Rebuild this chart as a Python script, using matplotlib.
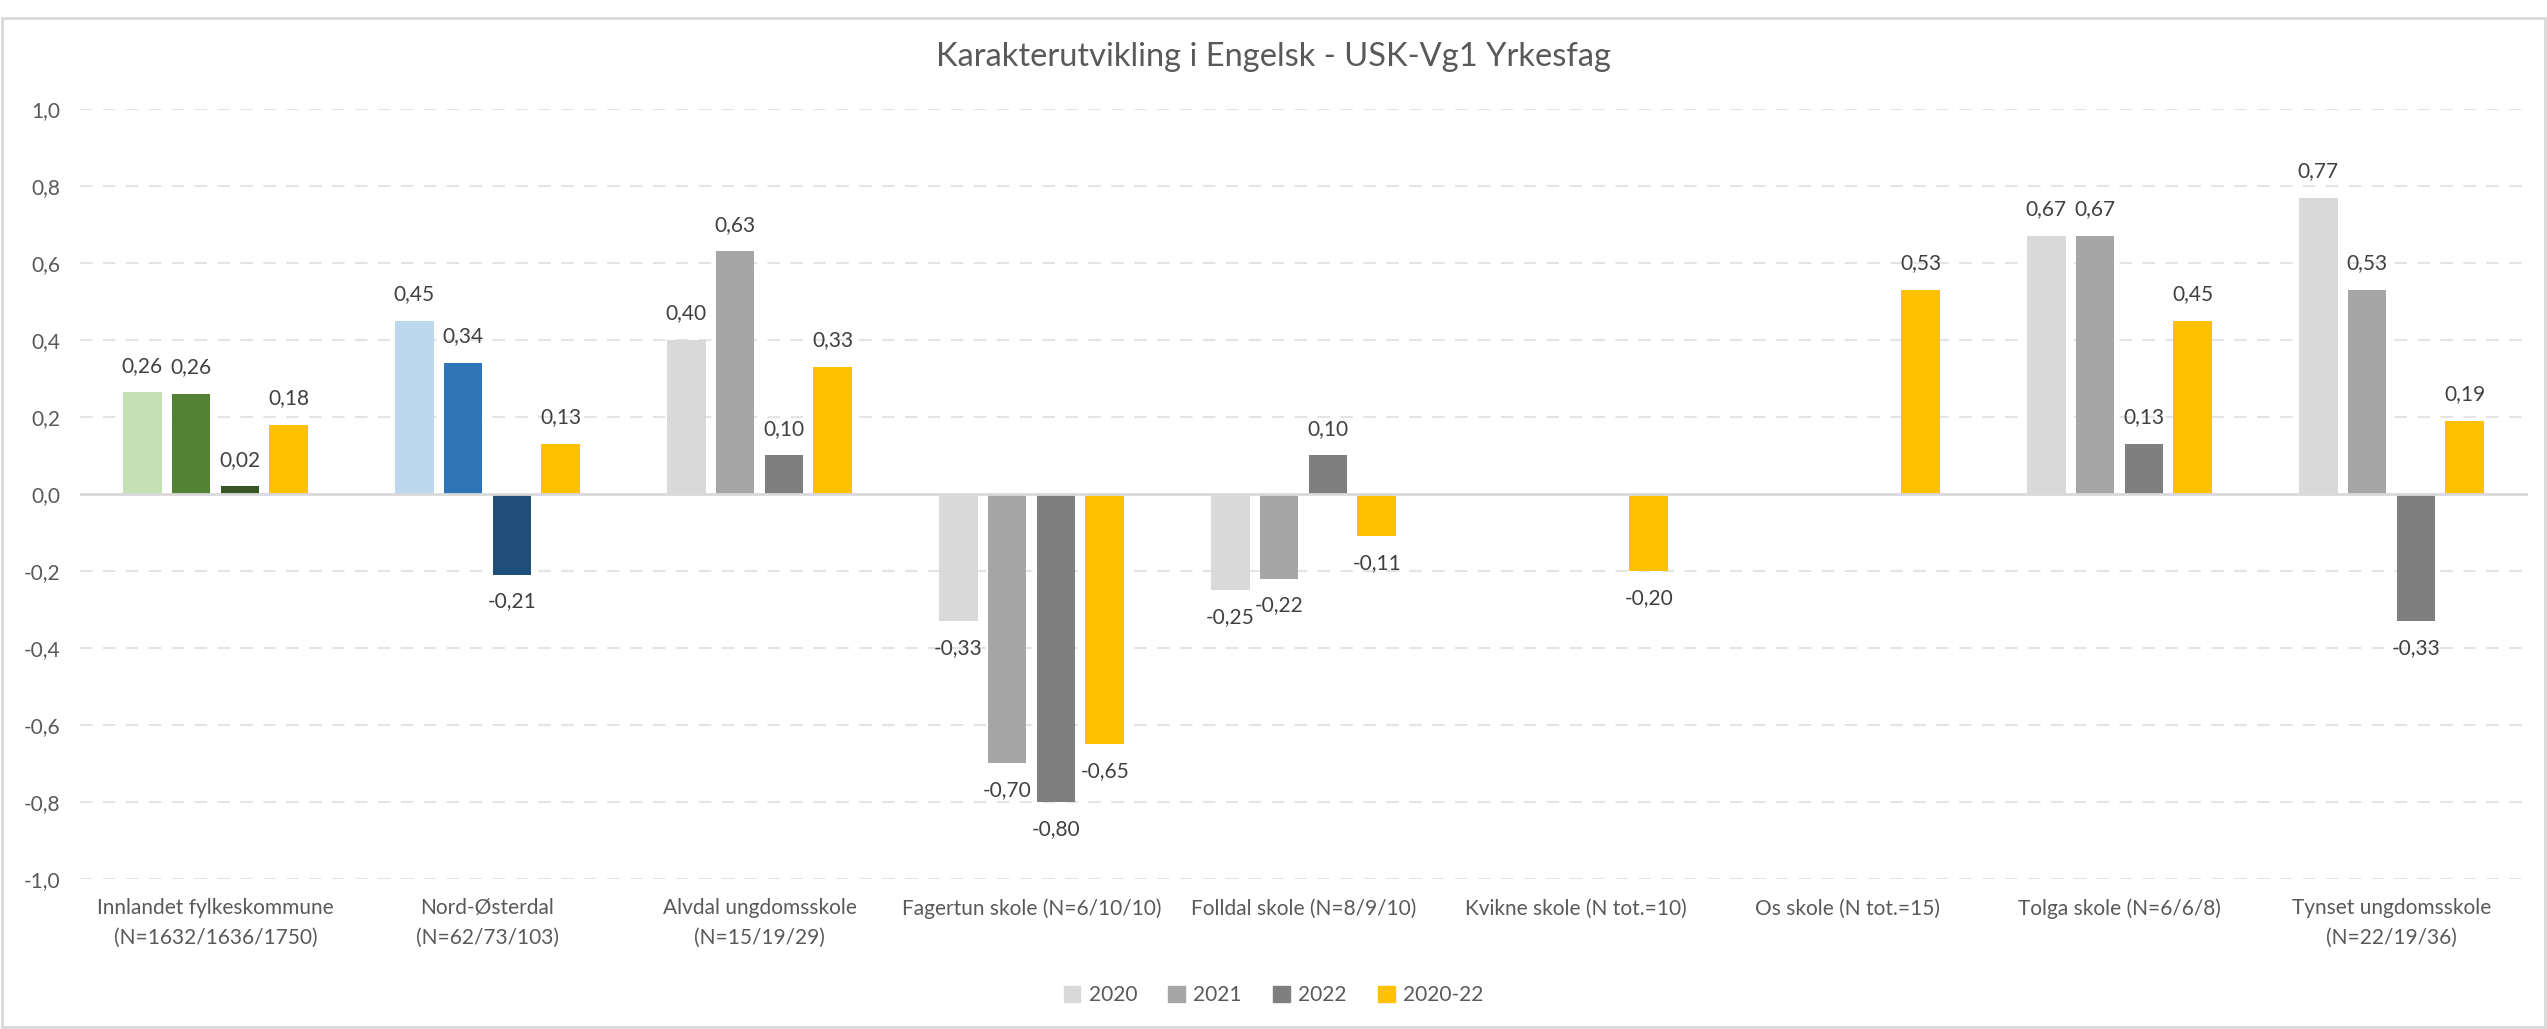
import numpy as np
import matplotlib.pyplot as plt
from matplotlib.patches import Patch, Rectangle
from matplotlib import font_manager

# Calibri-lookalike if available
names = {f.name for f in font_manager.fontManager.ttflist}
fam = 'Liberation Sans Narrow' if 'Liberation Sans Narrow' in names else 'Lato'
plt.rcParams['font.family'] = [fam, 'DejaVu Sans']

title = 'Karakterutvikling i Engelsk - USK-Vg1 Yrkesfag'
categories = [
    'Innlandet fylkeskommune\n(N=1632/1636/1750)',
    'Nord-Østerdal\n(N=62/73/103)',
    'Alvdal ungdomsskole\n(N=15/19/29)',
    'Fagertun skole (N=6/10/10)',
    'Folldal skole (N=8/9/10)',
    'Kvikne skole (N tot.=10)',
    'Os skole (N tot.=15)',
    'Tolga skole (N=6/6/8)',
    'Tynset ungdomsskole\n(N=22/19/36)',
]
series = ['2020', '2021', '2022', '2020-22']
nan = np.nan
v2020 = [0.264, 0.45, 0.40, -0.33, -0.25, nan, nan, 0.67, 0.77]
v2021 = [0.26, 0.34, 0.63, -0.70, -0.22, nan, nan, 0.67, 0.53]
v2022 = [0.02, -0.21, 0.10, -0.80, 0.10, nan, nan, 0.13, -0.33]
v2020_22 = [0.18, 0.13, 0.33, -0.65, -0.11, -0.20, 0.53, 0.45, 0.19]
values = [v2020, v2021, v2022, v2020_22]

# colour per series; first two groups use own palettes
grey = ['#D9D9D9', '#A6A6A6', '#7F7F7F', '#FFC000']
green = ['#C5E0B4', '#548235', '#375623', '#FFC000']
blue = ['#BDD7EE', '#2E75B6', '#1F4E79', '#FFC000']
group_colors = [green, blue] + [grey] * 7

fig = plt.figure(figsize=(25.47, 10.29), dpi=100)
ax = fig.add_axes([79.5 / 2547, 1 - 879 / 1029, (2527.5 - 79.5) / 2547, (879 - 109) / 1029])

x = np.arange(len(categories))
width = 0.143
step = 0.180
text_c = '#404040'
for i, vals in enumerate(values):
    cols = [gc[i] for gc in group_colors]
    pos = x + (i - 1.5) * step
    ax.bar(pos, vals, width, color=cols, zorder=3)
    for p, v in zip(pos, vals):
        if np.isnan(v):
            continue
        lab = f'{v:.2f}'.replace('.', ',')
        if v >= 0:
            ax.annotate(lab, (p, v), xytext=(0, 12), textcoords='offset points',
                        ha='center', va='bottom', fontsize=15, color=text_c)
        else:
            ax.annotate(lab, (p, v), xytext=(0, -12), textcoords='offset points',
                        ha='center', va='top', fontsize=15, color=text_c)

ax.set_xlim(-0.5, len(categories) - 0.5)
ax.set_ylim(-1.0, 1.0)
ticks = np.round(np.arange(-1.0, 1.01, 0.2), 1)
ax.set_yticks(ticks)
ax.set_yticklabels([f'{abs(t) if abs(t) < 1e-9 else t:.1f}'.replace('.', ',') for t in ticks],
                   fontsize=15, color='#595959')
for t in ticks:
    if abs(t) < 1e-9:
        ax.axhline(0, color='#D9D9D9', lw=2, zorder=4)
    else:
        ax.axhline(t, color='#E4E4E4', lw=1.5, ls=(0, (6, 5)), zorder=1)

ax.set_xticks(x)
ax.set_xticklabels(categories, fontsize=15, color='#595959', linespacing=1.6)
ax.tick_params(axis='both', length=0)
ax.tick_params(axis='x', pad=14)
ax.tick_params(axis='y', pad=14)
for s in ax.spines.values():
    s.set_visible(False)

fig.text(0.5, 1 - 57 / 1029, title, ha='center', va='center', fontsize=23.5, color='#595959')

handles = [Patch(color=c) for c in grey]
fig.legend(handles, series, loc='center', bbox_to_anchor=(0.5, 1 - 995 / 1029), ncol=4,
           frameon=False, fontsize=15, handlelength=0.8, handleheight=0.8,
           handletextpad=0.4, columnspacing=1.5, labelcolor='#595959')

fig.patches.append(Rectangle((2 / 2547, 2 / 1029), 1 - 4 / 2547, 1 - 20 / 1029,
                             transform=fig.transFigure, fill=False,
                             edgecolor='#D9D9D9', lw=2))

fig.savefig('out.png', dpi=100)
